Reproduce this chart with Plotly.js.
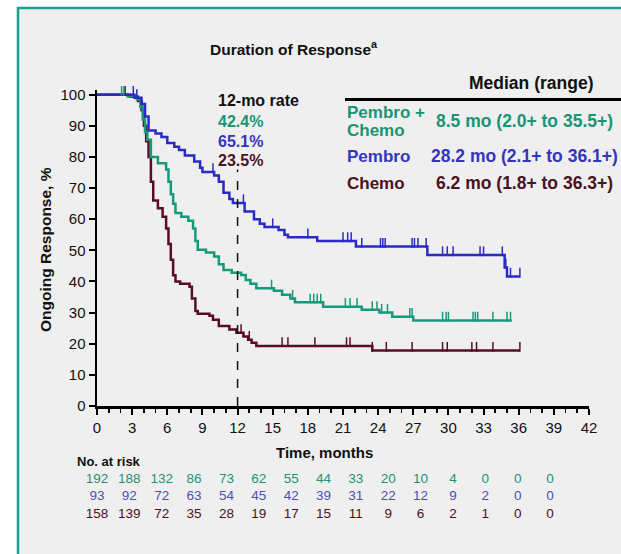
<!DOCTYPE html>
<html>
<head>
<meta charset="utf-8">
<script src="https://cdn.plot.ly/plotly-3.0.1.min.js"></script>
<style>html,body{margin:0;padding:0;background:#fff;overflow:hidden}</style>
</head>
<body>
<div id="chart" style="width:621px;height:554px"></div>
<script>
// ---------- DATA ----------
const comboTimes = [0, 2.6, 3.4, 3.7, 3.9, 4.1, 4.3, 4.6, 5.2, 5.9, 6.1, 6.3, 6.5, 6.7, 7.2, 7.8, 8.2, 8.4, 8.6, 9.3, 10.0, 10.4, 10.8, 11.5, 12.3, 12.7, 13.1, 13.6, 15.1, 15.8, 16.5, 16.9, 19.3, 22.6, 24.1, 25.2, 27.0];
const comboSurv  = [100, 99.5, 98.5, 96, 92, 88, 85.5, 80, 78, 76, 72, 68, 65, 62, 60.8, 59.5, 57, 53, 50.2, 49.3, 48, 45.5, 43.7, 42.8, 42.1, 40.5, 39.3, 37.8, 37.0, 35.7, 34.5, 33.3, 31.9, 30.9, 30.0, 28.7, 27.5];
const comboEnd = 35.4;
const comboCensor = [2.1, 2.3, 14.9, 16.7, 18.2, 18.5, 18.8, 19.1, 21.2, 21.6, 22.2, 23.5, 23.9, 24.3, 24.8, 26.7, 26.9, 29.5, 29.8, 30.0, 32.1, 32.3, 32.5, 33.8, 35.0, 35.3];

const pembroTimes = [0, 3.2, 3.8, 4.1, 4.4, 5.0, 5.5, 6.0, 6.6, 7.0, 7.5, 8.3, 8.8, 9.0, 10.0, 10.4, 10.8, 11.3, 11.6, 12.6, 13.4, 13.9, 14.3, 15.5, 16.0, 16.3, 18.8, 22.1, 28.2, 34.8, 35.0];
const pembroSurv  = [100, 99, 97, 93, 88.5, 87.5, 86.4, 84.5, 83.3, 82.2, 80.5, 78.5, 76.5, 75.2, 74, 72, 68.5, 66.5, 65.2, 62.5, 60, 58.5, 57.5, 56.5, 55, 54.2, 53, 51.2, 48.5, 44.5, 41.6];
const pembroEnd = 36.1;
const pembroCensor = [3.1, 3.4, 9.9, 12.5, 15.0, 18.0, 21.0, 21.4, 21.7, 22.6, 24.2, 24.4, 24.6, 26.9, 27.1, 27.4, 28.1, 29.5, 29.9, 30.4, 32.7, 33.0, 34.6, 34.9, 35.3, 36.1];

const chemoTimes = [0, 2.8, 3.5, 3.8, 4.0, 4.2, 4.4, 4.6, 4.8, 5.2, 5.6, 5.9, 6.1, 6.3, 6.5, 6.7, 7.1, 7.9, 8.1, 8.4, 8.6, 9.6, 9.9, 10.4, 11.3, 11.9, 12.5, 12.9, 13.2, 13.6, 23.5];
const chemoSurv  = [100, 99.3, 98, 95, 90, 85, 80, 72, 66, 63.5, 60.8, 57, 52, 47, 42, 40, 39.3, 38.3, 34.5, 30.5, 29.6, 29, 27.7, 25.7, 24.6, 23.5, 22.3, 21.3, 20.3, 19.3, 17.8];
const chemoEnd = 36.1;
const chemoCensor = [2.4, 12.3, 13.0, 15.8, 16.3, 18.6, 21.3, 21.6, 23.5, 24.7, 26.9, 29.5, 29.9, 32.0, 32.4, 33.8, 36.1];

const riskMonths = [0, 3, 6, 9, 12, 15, 18, 21, 24, 27, 30, 33, 36, 39, 42];
const riskCombo  = [192, 188, 132, 86, 73, 62, 55, 44, 33, 20, 10, 4, 0, 0, 0];
const riskPembro = [93, 92, 72, 63, 54, 45, 42, 39, 31, 22, 12, 9, 2, 0, 0];
const riskChemo  = [158, 139, 72, 35, 28, 19, 17, 15, 11, 9, 6, 2, 1, 0, 0];

const xTicks = [0, 3, 6, 9, 12, 15, 18, 21, 24, 27, 30, 33, 36, 39, 42];
const yTicks = [0, 10, 20, 30, 40, 50, 60, 70, 80, 90, 100];

const rate12 = ['42.4%', '65.1%', '23.5%'];
const medians = ['8.5 mo (2.0+ to 35.5+)', '28.2 mo (2.1+ to 36.1+)', '6.2 mo (1.8+ to 36.3+)'];
const landmarkMonth = 12;
const landmarkTop = 76;

// ---------- STYLE / LAYOUT ----------
const GREEN = '#169a7b', BLUE = '#2a2ac4', MAROON = '#5a0d22';
const GREEN_T = '#1a9474', BLUE_T = '#3434bf', MAROON_T = '#4a1222';
const FONT = 'Liberation Sans, Arial, Helvetica, sans-serif';

const W = 621, H = 554;
const L = 97, R = 589, TOP = 90, BOT = 520;
const pw = R - L, ph = BOT - TOP;
const px2x = p => (p - L) / pw;
const py2y = p => (BOT - p) / ph;
const mainBottom = py2y(406);

function survAt(times, surv, t) {
  let v = surv[0];
  for (let i = 0; i < times.length; i++) { if (times[i] <= t) v = surv[i]; }
  return v;
}
function curve(times, surv, end, color, name) {
  return { x: times.concat([end]), y: surv.concat([surv[surv.length - 1]]), type: 'scatter', mode: 'lines',
    line: { shape: 'hv', color: color, width: 2.5 }, name: name, hoverinfo: 'skip', xaxis: 'x', yaxis: 'y' };
}
function censor(times, surv, cens, color) {
  return { x: cens, y: cens.map(t => survAt(times, surv, t) + 1.2), type: 'scatter', mode: 'markers',
    marker: { symbol: 'line-ns', size: 7, line: { color: color, width: 1.5 } }, hoverinfo: 'skip', cliponaxis: false, xaxis: 'x', yaxis: 'y' };
}
const colPerPx = 32.36;
function riskRow(vals, yv, color) {
  return { x: vals.map((v, i) => i), y: vals.map(() => yv), text: vals.map(String), type: 'scatter', mode: 'text',
    textfont: { family: FONT, size: 13.5, color: color }, textposition: 'middle center', hoverinfo: 'skip',
    cliponaxis: false, xaxis: 'x2', yaxis: 'y2' };
}
// y2 axis: range 0..1 over pixel 470..520
const y2top = 470;
const y2v = p => (BOT - p) / (BOT - y2top);

const traces = [
  curve(chemoTimes, chemoSurv, chemoEnd, MAROON, 'Chemo'),
  curve(comboTimes, comboSurv, comboEnd, GREEN, 'Pembro + Chemo'),
  curve(pembroTimes, pembroSurv, pembroEnd, BLUE, 'Pembro'),
  censor(chemoTimes, chemoSurv, chemoCensor, MAROON),
  censor(comboTimes, comboSurv, comboCensor, GREEN),
  censor(pembroTimes, pembroSurv, pembroCensor, BLUE),
  riskRow(riskCombo, y2v(480), GREEN_T),
  riskRow(riskPembro, y2v(497), '#5050b4'),
  riskRow(riskChemo, y2v(514.5), MAROON_T)
];

function ann(text, px, py, opts) {
  return Object.assign({ text: text, x: px2x(px), y: py2y(py), xref: 'paper', yref: 'paper', showarrow: false,
    xanchor: 'left', yanchor: 'middle', font: { family: FONT, size: 14, color: '#111' } }, opts || {});
}
const f = (size, color) => ({ family: FONT, size: size, color: color || '#111' });
const annotations = [
  ann('<b>Duration of Response<sup>a</sup></b>', 294, 48, { xanchor: 'center', font: f(15.5) }),
  ann('<b>Ongoing Response, %</b>', 45, 250, { xanchor: 'center', textangle: -90, font: f(15.5) }),
  ann('<b>Time, months</b>', 324, 452, { xanchor: 'center', font: f(15) }),
  ann('<b>12-mo rate</b>', 216, 101, { font: f(16) }),
  ann('<b>' + rate12[0] + '</b>', 216, 121.5, { font: f(16, GREEN_T) }),
  ann('<b>' + rate12[1] + '</b>', 216, 141.5, { font: f(16, BLUE_T) }),
  ann('<b>' + rate12[2] + '</b>', 216, 160.5, { font: f(16, MAROON_T) }),
  ann('<b>Median (range)</b>', 531, 83, { xanchor: 'center', font: f(17.5) }),
  ann('<b>Pembro +</b>', 345, 112.7, { font: f(17, GREEN_T) }),
  ann('<b>Chemo</b>', 345, 130.7, { font: f(17, GREEN_T) }),
  ann('<b>' + medians[0] + '</b>', 434, 121.5, { font: f(17.5, GREEN_T) }),
  ann('<b>Pembro</b>', 345, 156, { font: f(17, BLUE_T) }),
  ann('<b>' + medians[1] + '</b>', 429, 156, { font: f(17.5, BLUE_T) }),
  ann('<b>Chemo</b>', 345, 183, { font: f(17, MAROON_T) }),
  ann('<b>' + medians[2] + '</b>', 434, 183, { font: f(17.5, MAROON_T) }),
  ann('<b>No. at risk</b>', 75, 461, { font: f(13) })
];

const shapes = [
  { type: 'rect', xref: 'paper', yref: 'paper', x0: px2x(18), x1: px2x(640), y0: py2y(570), y1: py2y(8),
    fillcolor: '#efefef', line: { color: '#18a092', width: 2.5 }, layer: 'below' },
  { type: 'line', xref: 'paper', yref: 'paper', x0: px2x(345), x1: px2x(625), y0: py2y(99.5), y1: py2y(99.5),
    line: { color: '#000', width: 3 } },
  { type: 'line', xref: 'x', yref: 'y', x0: landmarkMonth, x1: landmarkMonth, y0: 0, y1: landmarkTop,
    line: { color: '#111', width: 1.5, dash: 'dash' } }
];

const layout = {
  width: W, height: H,
  margin: { l: L, r: W - R, t: TOP, b: H - BOT, pad: 0 },
  paper_bgcolor: '#ffffff', plot_bgcolor: 'rgba(0,0,0,0)',
  showlegend: false,
  font: { family: FONT, size: 14, color: '#111' },
  xaxis: { range: [0, 42], tickvals: xTicks, ticktext: xTicks.map(String), ticks: 'outside', ticklen: 6, tickwidth: 2,
    tickcolor: '#000', showline: true, linewidth: 2.5, linecolor: '#000', showgrid: false, zeroline: false,
    minor: { dtick: 1, tick0: 0, ticks: 'outside', ticklen: 4, tickwidth: 1.8, tickcolor: '#000', showgrid: false },
    tickfont: f(15), anchor: 'y', fixedrange: true },
  yaxis: { range: [0, 101.5], domain: [mainBottom, 1], tickvals: yTicks, ticktext: yTicks.map(String), ticks: 'outside',
    ticklen: 6, tickwidth: 2, tickcolor: '#000', showline: true, linewidth: 2.5, linecolor: '#000', showgrid: false,
    zeroline: false, tickfont: f(15), anchor: 'x', fixedrange: true },
  xaxis2: { range: [0, pw / colPerPx], visible: false, anchor: 'y2', overlaying: 'x', fixedrange: true },
  yaxis2: { range: [0, 1], domain: [0, py2y(y2top)], visible: false, anchor: 'x2', fixedrange: true },
  annotations: annotations,
  shapes: shapes
};

Plotly.newPlot('chart', traces, layout, { staticPlot: true, displayModeBar: false });
</script>
</body>
</html>
